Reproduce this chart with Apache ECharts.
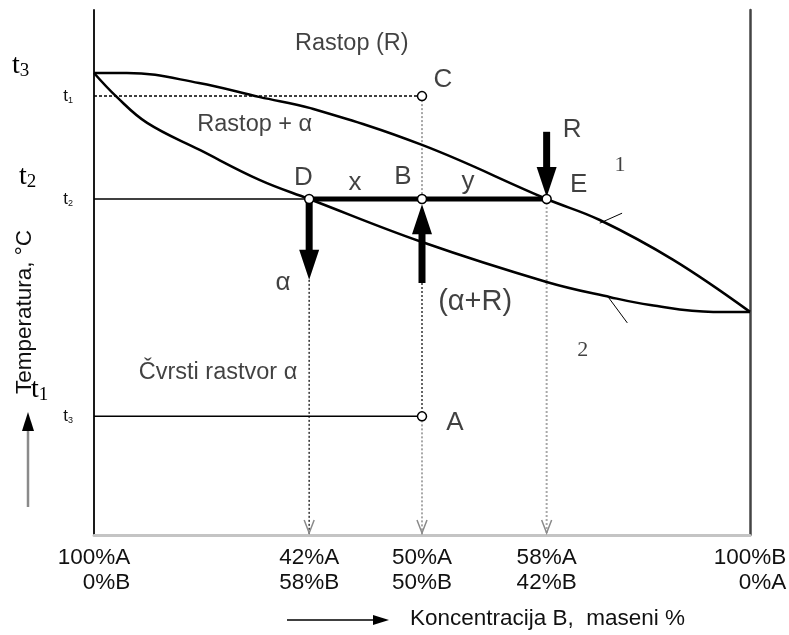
<!DOCTYPE html>
<html>
<head>
<meta charset="utf-8">
<script src="https://cdn.jsdelivr.net/npm/echarts@6/dist/echarts.min.js"></script>
<style>
  html, body { margin: 0; padding: 0; background: #fff; }
  #chart { width: 789px; height: 635px; }
</style>
</head>
<body>
<div id="chart"></div>
<script>
// schematic units: x = concentration position (0..100), y = temperature (0..100)
const liquidusX = [0, 5, 16, 25.3, 33, 50, 69, 77.1, 88.3, 100]
const liquidusY = [88, 88, 86.1, 83.4, 81.3, 74.3, 64, 60, 52.4, 42.5]
const solidusX = [0, 3.5, 8.1, 16.2, 25.3, 32.8, 50, 69, 78.7, 84.8, 94.4, 100]
const solidusY = [88, 83.4, 78.5, 73.3, 67.6, 64, 55.8, 48.2, 45.3, 43.8, 42.5, 42.5]

const tLevels = [83.6, 64, 22.6]
const tIndex = ['1', '2', '3']

const tickX = [0, 32.8, 50, 69, 100]
const tickTop = ['100%A', '42%A', '50%A', '58%A', '100%B']
const tickBottom = ['0%B', '58%B', '50%B', '42%B', '0%A']

const pointX = [50, 32.8, 50, 69, 50]
const pointY = [83.6, 64, 64, 64, 22.6]

// [x1, y1, x2, y2]
const dashedLines = [[0, 83.6, 50, 83.6]]
const thinLines = [[0, 64, 32.8, 64], [0, 22.6, 50, 22.6]]
const tieLine = [[32.8, 64, 69, 64]]
const grayDotted = [[50, 83.6, 50, 64], [50, 22.6, 50, 0], [69, 64, 69, 0]]
const darkDotted = [[50, 48, 50, 22.6], [32.8, 48.6, 32.8, 0]]
const leaderLines = [[77.1, 59.4, 80.5, 61.3], [78.4, 45.3, 81.3, 40.4]]
const dropX = [32.8, 50, 69]

// tail -> tip
const arrows = [
  [69, 76.8, 69, 64.4],
  [32.8, 64, 32.8, 48.6],
  [50, 48, 50, 63]
]

const regionNames = ['Rastop (R)', 'Rastop + α', 'Čvrsti rastvor α']
const regionX = [39.3, 24.5, 18.9]
const regionY = [93.7, 78.1, 31.0]

const letterNames = ['C', 'D', 'x', 'B', 'y', 'R', 'E', 'A', 'α']
const letterX = [53.2, 31.9, 39.8, 47.1, 57.0, 72.9, 73.9, 55.0, 28.8]
const letterY = [86.7, 68.0, 67.0, 68.2, 67.2, 77.1, 66.7, 21.3, 48.0]

const mixNames = ['(α+R)']
const mixX = [58.1]
const mixY = [44.4]

const curveNames = ['1', '2']
const curveX = [80.2, 74.5]
const curveY = [70.5, 35.2]

const SANS = 'Liberation Sans, Arial, sans-serif'
const SERIF = 'Liberation Serif, Times New Roman, serif'

const zip = (xs, ys) => xs.map((x, i) => [x, ys[i]])

function segments(name, data, style, z) {
  return {
    type: 'custom',
    name,
    data,
    z,
    silent: true,
    encode: { x: [0, 2], y: [1, 3] },
    renderItem: (params, api) => {
      const a = api.coord([api.value(0), api.value(1)])
      const b = api.coord([api.value(2), api.value(3)])
      return {
        type: 'line',
        shape: { x1: a[0], y1: a[1], x2: b[0], y2: b[1] },
        style
      }
    }
  }
}

function arrowItem(params, api) {
  const a = api.coord([api.value(0), api.value(1)])
  const b = api.coord([api.value(2), api.value(3)])
  const dx = b[0] - a[0], dy = b[1] - a[1]
  const len = Math.hypot(dx, dy)
  const ux = dx / len, uy = dy / len
  const head = 30, half = 10
  const bx = b[0] - ux * head, by = b[1] - uy * head
  return {
    type: 'group',
    children: [
      {
        type: 'line',
        shape: { x1: a[0], y1: a[1], x2: bx + ux * 3, y2: by + uy * 3 },
        style: { stroke: '#000', lineWidth: 7 }
      },
      {
        type: 'polygon',
        shape: { points: [[b[0], b[1]], [bx - uy * half, by + ux * half], [bx + uy * half, by - ux * half]] },
        style: { fill: '#000' }
      }
    ]
  }
}

function notes(names, xs, ys, font, size) {
  return {
    type: 'scatter',
    silent: true,
    symbolSize: 1,
    itemStyle: { color: 'rgba(0,0,0,0)' },
    z: 20,
    data: names.map((n, i) => ({ name: n, value: [xs[i], ys[i]] })),
    label: {
      show: true,
      position: 'inside',
      formatter: '{b}',
      color: '#111',
      fontFamily: font,
      fontSize: size
    }
  }
}

const chart = echarts.init(document.getElementById('chart'))
chart.setOption({
  backgroundColor: '#fff',
  animation: false,
  grid: { left: 94, right: 39, top: 10, bottom: 100, outerBoundsMode: 'none' },
  xAxis: {
    type: 'value',
    min: 0,
    max: 100,
    name: 'Koncentracija B,  maseni %',
    nameLocation: 'middle',
    nameGap: 72,
    nameTextStyle: { color: '#111', fontSize: 22.5, fontFamily: SANS, padding: [0, 0, 0, 251] },
    axisLine: { lineStyle: { color: '#c4c4c4', width: 3 } },
    axisTick: { show: false },
    splitLine: { show: false },
    axisLabel: {
      customValues: tickX,
      margin: 10,
      color: '#111',
      fontFamily: SANS,
      fontSize: 22.5,
      lineHeight: 25,
      formatter: (v) => {
        const i = tickX.indexOf(v)
        if (i < 0) return ''
        return `{r|${tickTop[i]}}\n{r|${tickBottom[i]}}`
      },
      rich: { r: { align: 'right', fontSize: 22.5, lineHeight: 25, fontFamily: SANS, color: '#111' } }
    }
  },
  yAxis: [
    {
      type: 'value',
      min: 0,
      max: 100,
      name: 'Temperatura, °C',
      nameLocation: 'middle',
      nameRotate: 90,
      nameGap: 58,
      nameTextStyle: { color: '#111', fontSize: 22.5, fontFamily: SANS, padding: [0, 79, 0, 0] },
      axisLine: { lineStyle: { color: '#1a1a1a', width: 2 } },
      axisTick: { show: false },
      splitLine: { show: false },
      axisLabel: {
        customValues: tLevels,
        margin: 21,
        formatter: (v) => {
          const i = tLevels.indexOf(v)
          return i < 0 ? '' : `{t|t}{s|${tIndex[i]}}`
        },
        rich: {
          t: { fontSize: 17, fontFamily: SANS, color: '#111' },
          s: { fontSize: 9, fontFamily: SANS, color: '#111', padding: [9, 0, 0, 0] }
        }
      }
    },
    {
      type: 'value',
      min: 0,
      max: 100,
      position: 'right',
      axisLine: { show: true, lineStyle: { color: '#444', width: 2.5 } },
      axisTick: { show: false },
      axisLabel: { show: false },
      splitLine: { show: false }
    }
  ],
  graphic: [
    {
      type: 'line',
      shape: { x1: 28, y1: 507, x2: 28, y2: 428 },
      style: { stroke: '#8a8a8a', lineWidth: 2.5 }
    },
    {
      type: 'polygon',
      shape: { points: [[28, 412], [22, 431], [34, 431]] },
      style: { fill: '#000' }
    },
    {
      type: 'line',
      shape: { x1: 287, y1: 620, x2: 376, y2: 620 },
      style: { stroke: '#000', lineWidth: 1.5 }
    },
    {
      type: 'polygon',
      shape: { points: [[389, 620], [373, 615], [373, 625]] },
      style: { fill: '#000' }
    },
    {
      type: 'text', left: 12, top: 52,
      style: {
        text: '{t|t}{s|3}',
        rich: {
          t: { fontFamily: SERIF, fontSize: 28, fill: '#000' },
          s: { fontFamily: SERIF, fontSize: 19, fill: '#000', padding: [10, 0, 0, 0] }
        }
      }
    },
    {
      type: 'text', left: 19, top: 163,
      style: {
        text: '{t|t}{s|2}',
        rich: {
          t: { fontFamily: SERIF, fontSize: 28, fill: '#000' },
          s: { fontFamily: SERIF, fontSize: 19, fill: '#000', padding: [10, 0, 0, 0] }
        }
      }
    },
    {
      type: 'text', left: 31, top: 376,
      style: {
        text: '{t|t}{s|1}',
        rich: {
          t: { fontFamily: SERIF, fontSize: 28, fill: '#000' },
          s: { fontFamily: SERIF, fontSize: 19, fill: '#000', padding: [10, 0, 0, 0] }
        }
      }
    }
  ],
  series: [
    {
      type: 'line',
      name: 'likvidus',
      data: zip(liquidusX, liquidusY),
      smooth: 0.4,
      showSymbol: false,
      silent: true,
      z: 5,
      lineStyle: { color: '#000', width: 2.5 }
    },
    {
      type: 'line',
      name: 'solidus',
      data: zip(solidusX, solidusY),
      smooth: 0.4,
      showSymbol: false,
      silent: true,
      z: 5,
      lineStyle: { color: '#000', width: 2.5 }
    },
    segments('t1', dashedLines, { stroke: '#000', lineWidth: 1.5, lineDash: [3, 2] }, 4),
    segments('tanke', thinLines, { stroke: '#000', lineWidth: 1.5 }, 4),
    segments('DE', tieLine, { stroke: '#000', lineWidth: 5 }, 6),
    segments('sive', grayDotted, { stroke: '#a8a8a8', lineWidth: 2, lineDash: [2, 2] }, 3),
    segments('tamne', darkDotted, { stroke: '#333', lineWidth: 1.5, lineDash: [2, 2] }, 3),
    segments('oznake', leaderLines, { stroke: '#000', lineWidth: 1 }, 4),
    {
      type: 'custom',
      name: 'vrhovi',
      silent: true,
      z: 4,
      data: dropX.map((x) => [x, 0]),
      renderItem: (params, api) => {
        const p = api.coord([api.value(0), api.value(1)])
        return {
          type: 'polyline',
          shape: { points: [[p[0] - 5, p[1] - 15], [p[0], p[1] - 2], [p[0] + 5, p[1] - 15]] },
          style: { stroke: '#8a8a8a', lineWidth: 1.5, fill: null }
        }
      }
    },
    {
      type: 'custom',
      name: 'strelice',
      silent: true,
      z: 7,
      data: arrows,
      encode: { x: [0, 2], y: [1, 3] },
      renderItem: arrowItem
    },
    {
      type: 'scatter',
      name: 'tacke',
      silent: true,
      z: 10,
      data: zip(pointX, pointY),
      symbol: 'circle',
      symbolSize: 9,
      itemStyle: { color: '#fff', borderColor: '#000', borderWidth: 1.5, opacity: 1 }
    },
    notes(regionNames, regionX, regionY, SANS, 23.5),
    notes(letterNames, letterX, letterY, SANS, 26),
    notes(mixNames, mixX, mixY, SANS, 29),
    notes(curveNames, curveX, curveY, SERIF, 22)
  ]
})
</script>
</body>
</html>
